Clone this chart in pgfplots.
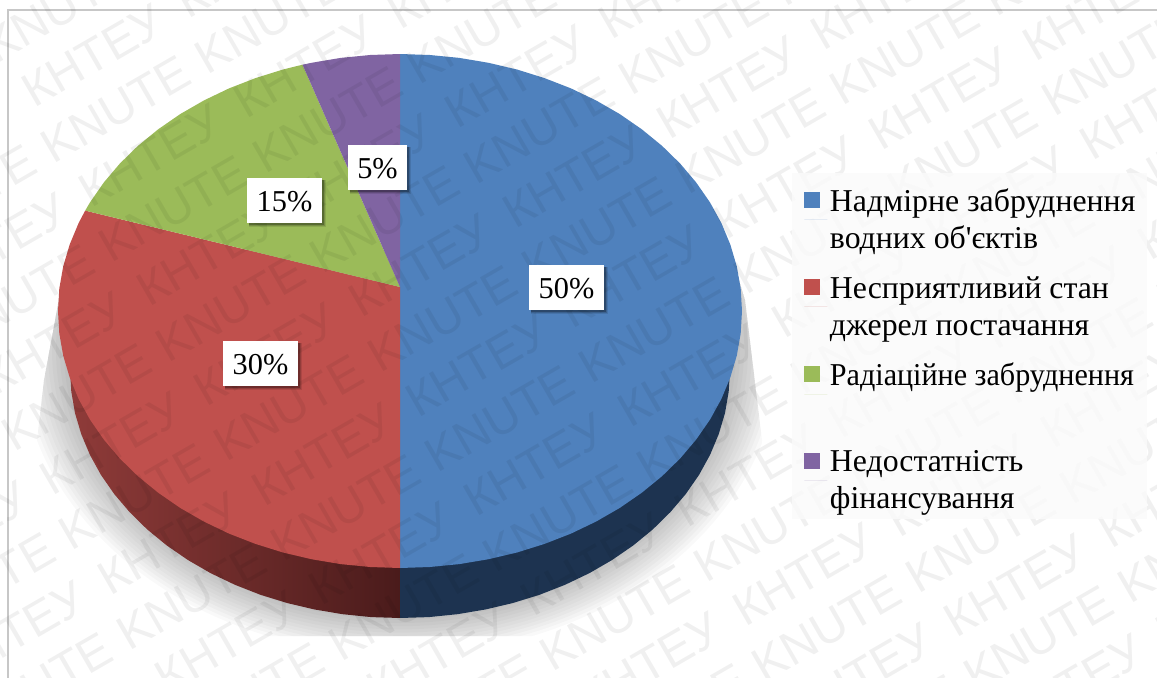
\documentclass[border=0pt]{standalone}
\usepackage{fontspec}
\usepackage{graphicx}
\setmainfont{Liberation Serif}
\newfontfamily\legfont{Liberation Serif}
\newfontfamily\wmfont{Liberation Sans}
\usepackage{pgfplots}
\pgfplotsset{compat=1.18}

\definecolor{cblue}{HTML}{4F81BD}
\definecolor{cred}{HTML}{C0504D}
\definecolor{cgreen}{HTML}{9BBB59}
\definecolor{cpurple}{HTML}{8064A2}
\definecolor{sideblue}{HTML}{1D3350}
\definecolor{sidered1}{HTML}{8F3B39}
\definecolor{sidered2}{HTML}{4A1B1B}

% one data label: white box with a soft shadow, centre and half width in pixels
\newcommand{\pielabel}[4]{%
  \fill[black,opacity=.10] (axis cs:#1-#3+2,#2-20.5) rectangle (axis cs:#1+#3+4,#2+26.5);
  \fill[black,opacity=.15] (axis cs:#1-#3+2,#2-20.5) rectangle (axis cs:#1+#3+2.5,#2+25);
  \fill[black,opacity=.25] (axis cs:#1-#3+2,#2-20.5) rectangle (axis cs:#1+#3+1.5,#2+24);
  \fill[white] (axis cs:#1-#3,#2-22.5) rectangle (axis cs:#1+#3,#2+22.5);
  \node[font=\fontsize{22.75}{26}\selectfont,inner sep=0pt] at (axis cs:#1,#2+1) {#4};
}
% ten words of the watermark, one every 178 px
\newcommand{\wmword}[1]{\makebox[133.5pt][l]{#1}}
\newcommand{\wmrow}[1]{\wmword{#1}\wmword{#1}\wmword{#1}\wmword{#1}\wmword{#1}\wmword{#1}\wmword{#1}\wmword{#1}\wmword{#1}\wmword{#1}}

\begin{document}
\begin{tikzpicture}
\useasboundingbox (0,0) rectangle (867.75pt,508.5pt);
\begin{axis}[
  at={(0,0)},anchor=south west,
  scale only axis,width=867.75pt,height=508.5pt,
  xmin=0,xmax=1157,ymin=0,ymax=678,y dir=reverse,
  hide axis,
  legend image code/.code={\fill[#1,draw=none] (0pt,9pt) rectangle (12pt,21pt);\path (0pt,0pt) -- (17.25pt,0pt);},
  legend style={
    at={(804/1157,1-186/678)},anchor=north west,
    draw=none,fill=none,inner sep=0pt,
    font=\legfont\fontsize{23.85}{27.75}\selectfont,
    row sep=15.4pt,
    cells={anchor=west,align=left},
  },
]
% frame
\draw[color=black!22,line width=1.1pt] (axis cs:8,678) -- (axis cs:8,10) -- (axis cs:1157,10);

% cast shadow, hard edged by its own box
\begin{scope}
  \clip (axis cs:68,250) -- (axis cs:44,380) -- (axis cs:37,440) -- (axis cs:37,636) -- (axis cs:762,636) -- (axis cs:762,440) -- (axis cs:745,300) -- (axis cs:730,250) -- cycle;
  \pgfplotsinvokeforeach{0,...,11}{
    \fill[black,opacity=.022] (axis cs:400,350) ellipse [x radius={380-4*#1},y radius={305-3.2*#1}];
  }
\end{scope}

% side walls
\addplot[forget plot,draw=none,fill=sideblue] coordinates {
  (400,370)(730,370)(728.7,391.6)(725,413.1)(718.7,434.2)(710.1,454.8)(699.1,474.8)(685.8,494)
  (670.3,512.2)(652.8,529.4)(633.3,545.4)(612.1,560)(589.3,573.2)(565,584.8)(539.5,594.8)
  (512.9,603)(485.4,609.5)(457.3,614.2)(428.8,617.1)(400,618)(400,370)};
\addplot[forget plot,draw=none,left color=sidered1,right color=sidered2] coordinates {
  (400,370)(70,370)(71.3,391.6)(75,413.1)(81.3,434.2)(89.9,454.8)(100.9,474.8)(114.2,494)
  (129.7,512.2)(147.2,529.4)(166.7,545.4)(187.9,560)(210.7,573.2)(235,584.8)(260.5,594.8)
  (287.1,603)(314.6,609.5)(342.7,614.2)(371.2,617.1)(400,618)(400,370)};

% top face, 50 / 30 / 15 / 5
\addplot[draw=none,fill=cblue] coordinates {
  (400,287)(400,54)(429.8,55)(459.4,57.9)(488.5,62.8)(517,69.5)(544.5,78.1)(571,88.4)(596.2,100.5)
  (619.8,114.1)(641.8,129.3)(662,145.8)(680.2,163.6)(696.2,182.5)(710,202.4)(721.4,223.1)
  (730.3,244.5)(736.8,266.4)(740.7,288.6)(742,311)(740.7,333.4)(736.8,355.6)(730.3,377.5)
  (721.4,398.9)(710,419.6)(696.2,439.5)(680.2,458.4)(662,476.2)(641.8,492.7)(619.8,507.9)
  (596.2,521.5)(571,533.6)(544.5,543.9)(517,552.5)(488.5,559.2)(459.4,564.1)(429.8,567)(400,568)(400,287)};
\addlegendentry{Надмірне забруднення\\водних об'єктів}
\addplot[draw=none,fill=cred] coordinates {
  (400,287)(400,568)(370.2,567)(340.6,564.1)(311.5,559.2)(283,552.5)(255.5,543.9)(229,533.6)
  (203.8,521.5)(180.2,507.9)(158.2,492.7)(138,476.2)(119.8,458.4)(103.8,439.5)(90,419.6)
  (78.6,398.9)(69.7,377.5)(63.2,355.6)(59.3,333.4)(58,311)(59.3,288.6)(63.2,266.4)(69.7,244.5)
  (78.6,223.1)(85.2,210.6)(400,287)};
\addlegendentry{Несприятливий стан\\джерел постачання}
\addplot[draw=none,fill=cgreen] coordinates {
  (400,287)(85.2,210.6)(90,202.4)(103.8,182.5)(119.8,163.6)(138,145.8)(158.2,129.3)(180.2,114.1)
  (203.8,100.5)(229,88.4)(255.5,78.1)(283,69.5)(302.5,64.7)(400,287)};
\addlegendentry{\scalebox{.947}[1]{Радіаційне забруднення}\\\strut}
\addplot[draw=none,fill=cpurple] coordinates {
  (400,287)(302.5,64.7)(311.5,62.8)(340.6,57.9)(370.2,55)(400,54)(400,287)};
\addlegendentry{Недостатність\\фінансування}

% watermark rows, 57.5 px apart, the two words in turn
\pgfplotsinvokeforeach{-8,-6,...,14}{
  \node[anchor=base west,inner sep=0pt,rotate=30,text=black,text opacity=.06,font=\wmfont\fontsize{36}{40}\selectfont]
    at (axis cs:{823.3+.5*57.5*#1+.866*(-1246)},{51.7+.866*57.5*#1-.5*(-1246)}) {\wmrow{КНТЕУ}};
}
\pgfplotsinvokeforeach{-7,-5,...,13}{
  \node[anchor=base west,inner sep=0pt,rotate=30,text=black,text opacity=.06,font=\wmfont\fontsize{36}{40}\selectfont]
    at (axis cs:{823.3+.5*57.5*#1+.866*(-1257)},{51.7+.866*57.5*#1-.5*(-1257)}) {\wmrow{KNUTE}};
}

% legend panel lies over the watermark
\fill[black!2,opacity=.8] (axis cs:792,173) rectangle (axis cs:1147,519);

\pielabel{566.5}{287.5}{37.5}{50\%}
\pielabel{284.5}{200.5}{37.5}{15\%}
\pielabel{377.5}{167.5}{29.5}{5\%}
\pielabel{260.5}{363.5}{37.5}{30\%}
\end{axis}
\end{tikzpicture}
\end{document}
